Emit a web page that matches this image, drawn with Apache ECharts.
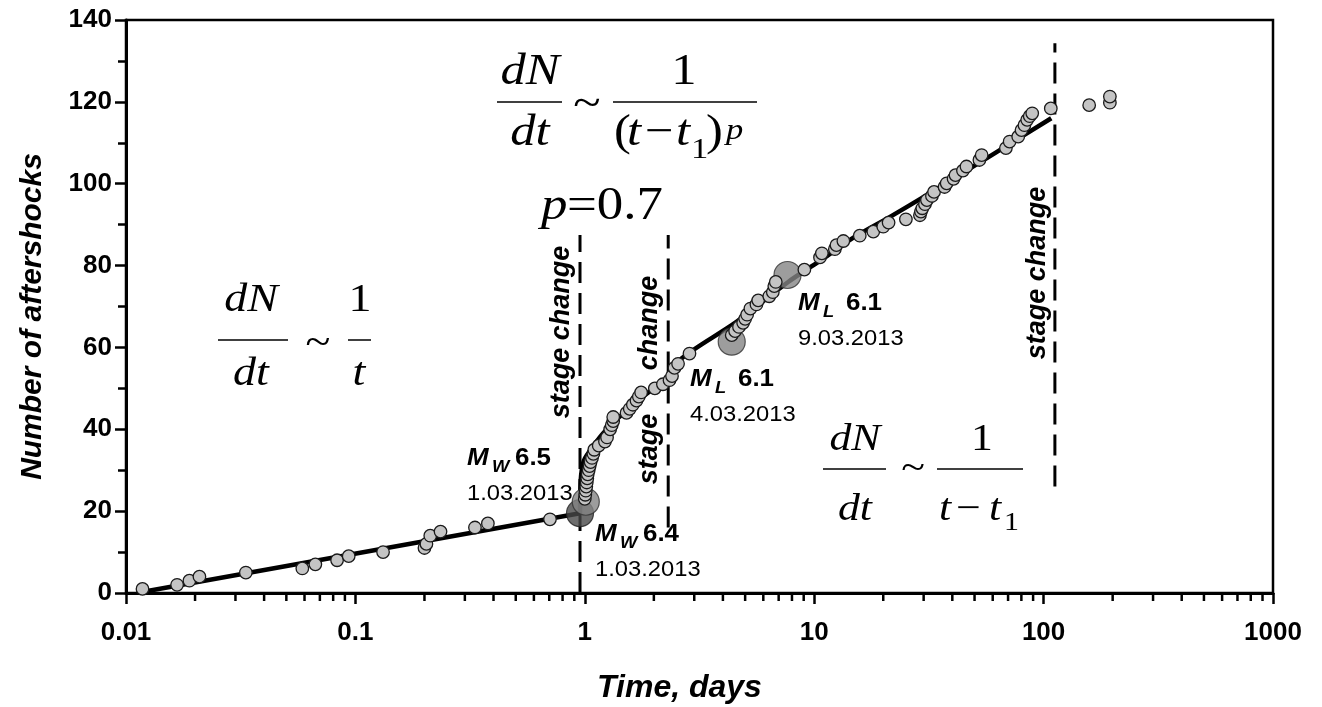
<!DOCTYPE html>
<html>
<head>
<meta charset="utf-8">
<script src="https://cdn.jsdelivr.net/npm/echarts@6/dist/echarts.min.js"></script>
<style>
html, body { margin: 0; padding: 0; background: #fff; }
#chart { width: 1322px; height: 707px; }
</style>
</head>
<body>
<div id="chart"></div>
<script>
// minor ticks of the log time axis (2..9 in every decade)
var xMinorTicks = [0.02, 0.03, 0.04, 0.05, 0.06, 0.07, 0.08, 0.09,
    0.2, 0.3, 0.4, 0.5, 0.6, 0.7, 0.8, 0.9,
    2, 3, 4, 5, 6, 7, 8, 9,
    20, 30, 40, 50, 60, 70, 80, 90,
    200, 300, 400, 500, 600, 700, 800, 900];

// cumulative aftershock count: [time in days, number]
var aftershocks = [
    [0.0118, 1], [0.0167, 2], [0.0189, 3], [0.0209, 4], [0.0333, 5], [0.0587, 6], [0.0669, 7],
    [0.0832, 8], [0.0935, 9], [0.132, 10], [0.200, 11], [0.204, 12], [0.212, 14], [0.235, 15],
    [0.332, 16], [0.378, 17], [0.705, 18],
    [1.00, 23], [1.005, 24], [1.01, 25], [1.015, 26], [1.02, 27], [1.025, 28], [1.03, 29],
    [1.04, 30], [1.05, 31], [1.06, 32], [1.075, 33], [1.09, 34], [1.10, 35], [1.15, 36],
    [1.224, 37], [1.25, 38], [1.29, 40], [1.31, 41], [1.33, 42], [1.33, 43], [1.52, 44],
    [1.57, 45], [1.62, 46], [1.68, 47], [1.72, 48], [1.76, 49], [2.02, 50], [2.19, 51],
    [2.34, 52], [2.40, 53], [2.46, 55], [2.55, 56], [2.86, 58.5],
    [4.37, 63], [4.52, 64], [4.7, 65], [4.9, 66], [5.0, 67], [5.1, 68], [5.27, 69.5],
    [5.6, 70.5], [5.7, 71.5], [6.37, 72.5], [6.6, 73.5], [6.7, 75], [6.8, 76], [9.06, 79],
    [10.6, 82], [10.8, 83], [12.3, 84], [12.5, 85], [13.4, 86], [15.8, 87.3], [18.1, 88.3],
    [20.0, 89.5], [21.1, 90.5], [25.1, 91.3], [28.9, 92.3], [29.2, 93.2], [29.6, 94],
    [30.4, 95], [31.0, 96], [32.6, 97], [33.3, 98], [37.0, 99.2], [37.8, 100.1], [40.5, 101.2],
    [41.3, 102.1], [44.5, 103.2], [46.1, 104.2], [52.5, 105.8], [53.7, 107], [68.5, 108.7],
    [71.1, 110.3], [77.5, 111.5], [80.1, 113.1], [82.5, 114.3], [84.8, 115.6], [87.0, 116.5],
    [89.2, 117.2], [107.5, 118.4], [158, 119.2], [194.5, 119.8], [194.5, 121.3]
];

// main shocks (large symbols)
var shockMw65 = [[0.953, 19.5]];
var shocksOther = [[1.01, 22.3], [4.37, 61.4], [7.65, 77.7]];

// fitted curves
var fitLog = [[0.0119, 0.3], [0.953, 19.5]];
var fitOmoriP = [[0.953, 19.5], [0.956, 24], [0.96, 27.5], [0.97, 30], [0.99, 32.3], [1.03, 34],
    [1.1, 36.3], [1.2, 39], [1.35, 42], [1.5, 44.2], [1.75, 47.5], [2.0, 50], [2.31, 52.3]];
var fitOmori = [[2.31, 52.3], [2.6, 57], [4.6, 66.3], [7.7, 76], [10.5, 81], [15, 87],
    [21.4, 91.9], [30.9, 97.2], [59.4, 107], [108, 116]];

// dashed stage-change markers: [day, bottom, top]
var stageChanges = [[0.953, 0, 87.5], [2.31, 16, 87.5], [112, 26, 134.3]];

var serif = "'Liberation Serif','Times New Roman',serif";
var sans = "'Liberation Sans',Arial,sans-serif";

var chart = echarts.init(document.getElementById('chart'));

// serif formula piece placed by its baseline
function ser(x, base, s, style, size, align, sx) {
    return {
        type: 'text', x: x, y: base - size * 0.32, z: 100, scaleX: sx || 1.15,
        style: { text: s, font: style + ' ' + size + 'px ' + serif, fill: '#000', align: align || 'left', verticalAlign: 'middle' }
    };
}
function sns(x, base, s, style, size, align) {
    return {
        type: 'text', x: x, y: base - size * 0.34, z: 100, scaleX: 1.08,
        style: { text: s, font: style + ' ' + size + 'px ' + sans, fill: '#000', align: align || 'left', verticalAlign: 'middle' }
    };
}
function bar(x1, x2, y) {
    return { type: 'line', z: 100, shape: { x1: x1, y1: y, x2: x2, y2: y }, style: { stroke: '#000', lineWidth: 1.5 } };
}
function vtext(x, y, s) {
    return {
        type: 'text', x: x, y: y, rotation: Math.PI / 2, z: 100,
        style: { text: s, font: 'italic bold 27px ' + sans, fill: '#000', align: 'center', verticalAlign: 'middle' }
    };
}
function magLabel(x, base, sub, mag, date) {
    return [
        sns(x, base, 'M', 'italic bold', 24),
        sns(x + 25, base + 6, sub, 'italic bold', 17),
        sns(x + 48, base, mag, 'bold', 24),
        sns(x, base + 34, date, 'normal', 22)
    ];
}

var graphics = [].concat(
    // top formula
    [ser(530, 87, 'dN', 'italic', 44, 'center'), bar(497, 562, 102), ser(530, 148, 'dt', 'italic', 44, 'center'),
     ser(587, 120, '~', 'normal', 44, 'center'),
     ser(684, 87, '1', 'normal', 44, 'center'), bar(613, 757, 102),
     ser(614, 148, '(', 'normal', 44), ser(627, 148, 't', 'italic', 44), ser(645, 148, '\u2212', 'normal', 44),
     ser(676, 148, 't', 'italic', 44), ser(691, 160, '1', 'normal', 30), ser(706, 148, ')', 'normal', 44),
     ser(726, 141, 'p', 'italic', 30)],
    // p = 0.7
    [ser(541, 222, 'p', 'italic', 46), ser(567, 222, '=0.7', 'normal', 46)],
    // left formula
    [ser(251, 313, 'dN', 'italic', 40, 'center'), bar(218, 288, 340), ser(251, 387, 'dt', 'italic', 40, 'center'),
     ser(318, 357, '~', 'normal', 40, 'center'),
     ser(360, 313, '1', 'normal', 40, 'center'), bar(348, 371, 340), ser(359, 387, 't', 'italic', 40, 'center')],
    // right formula
    [ser(855, 452, 'dN', 'italic', 38, 'center'), bar(823, 886, 469), ser(855, 522, 'dt', 'italic', 38, 'center'),
     ser(913, 481, '~', 'normal', 38, 'center'),
     ser(982, 452, '1', 'normal', 38, 'center'), bar(937, 1023, 469),
     ser(939, 522, 't', 'italic', 38), ser(956, 522, '\u2212', 'normal', 38), ser(989, 522, 't', 'italic', 38),
     ser(1004, 531, '1', 'normal', 26)],
    // stage change labels
    [vtext(562, 332, 'stage change'), vtext(650, 323, 'change'), vtext(650, 449, 'stage'), vtext(1038, 273, 'stage change')],
    magLabel(467, 467, 'W', '6.5', '1.03.2013'),
    magLabel(595, 543, 'W', '6.4', '1.03.2013'),
    magLabel(690, 388, 'L', '6.1', '4.03.2013'),
    magLabel(798, 312, 'L', '6.1', '9.03.2013')
);

var stageSeries = stageChanges.map(function (s) {
    return {
        type: 'line', data: [[s[0], s[1]], [s[0], s[2]]], symbol: 'none', z: 2, silent: true,
        lineStyle: { color: '#000', width: 3, type: [21, 10] }
    };
});

function fitSeries(data) {
    return {
        type: 'line', data: data, symbol: 'none', smooth: 0.3, z: 2, silent: true,
        lineStyle: { color: '#000', width: 4.5 }
    };
}

var option = {
    animation: false,
    backgroundColor: '#fff',
    grid: { left: 126, right: 49, top: 20, bottom: 114, show: true, borderColor: '#000', borderWidth: 2.5,
        outerBoundsMode: 'none', containLabel: false },
    xAxis: {
        type: 'log', logBase: 10, min: 0.01, max: 1000,
        name: 'Time, days', nameLocation: 'middle', nameGap: 79,
        nameTextStyle: { fontFamily: sans, fontSize: 32, fontWeight: 'bold', fontStyle: 'italic', color: '#000',
            padding: [0, 40, 0, 0] },
        axisLine: { lineStyle: { color: '#000', width: 3 } },
        axisTick: { length: 11, lineStyle: { color: '#000', width: 2.5 } },
        axisLabel: { color: '#000', fontFamily: sans, fontSize: 26, fontWeight: 'bold', margin: 27,
            formatter: function (v) { return String(v); } },
        splitLine: { show: false }, minorTick: { show: false }
    },
    yAxis: {
        type: 'value', min: 0, max: 140, interval: 20,
        name: 'Number of aftershocks', nameLocation: 'middle', nameGap: 78,
        nameTextStyle: { fontFamily: sans, fontSize: 30, fontWeight: 'bold', fontStyle: 'italic', color: '#000',
            padding: [0, 20, 0, 0] },
        axisLine: { show: true, lineStyle: { color: '#000', width: 3 } },
        axisTick: { show: true, length: 11, lineStyle: { color: '#000', width: 2.5 } },
        minorTick: { show: true, splitNumber: 2, length: 8, lineStyle: { color: '#000', width: 2.5 } },
        axisLabel: { color: '#000', fontFamily: sans, fontSize: 26, fontWeight: 'bold', margin: 14 },
        splitLine: { show: false }
    },
    graphic: graphics,
    series: [
        fitSeries(fitLog), fitSeries(fitOmoriP), fitSeries(fitOmori)
    ].concat(stageSeries).concat([
        {
            type: 'scatter', data: shockMw65, symbolSize: 27, z: 3,
            itemStyle: { color: '#484848', borderColor: '#222', borderWidth: 1.2 }
        },
        {
            type: 'scatter', data: shocksOther, symbolSize: 27, z: 3,
            itemStyle: { color: '#858585', borderColor: '#333', borderWidth: 1.2 }
        },
        {
            type: 'scatter', data: aftershocks, symbolSize: 12.5, z: 4,
            itemStyle: { color: '#c4c4c4', borderColor: '#1a1a1a', borderWidth: 1.3, opacity: 1 }
        },
        {
            type: 'custom', data: xMinorTicks.map(function (v) { return [v, 0]; }), clip: false, silent: true, z: 5,
            renderItem: function (params, api) {
                var p = api.coord([api.value(0), 0]);
                return { type: 'line', shape: { x1: p[0], y1: p[1], x2: p[0], y2: p[1] + 8 },
                    style: { stroke: '#000', lineWidth: 2.5 } };
            }
        }
    ])
};

chart.setOption(option);
</script>
</body>
</html>
